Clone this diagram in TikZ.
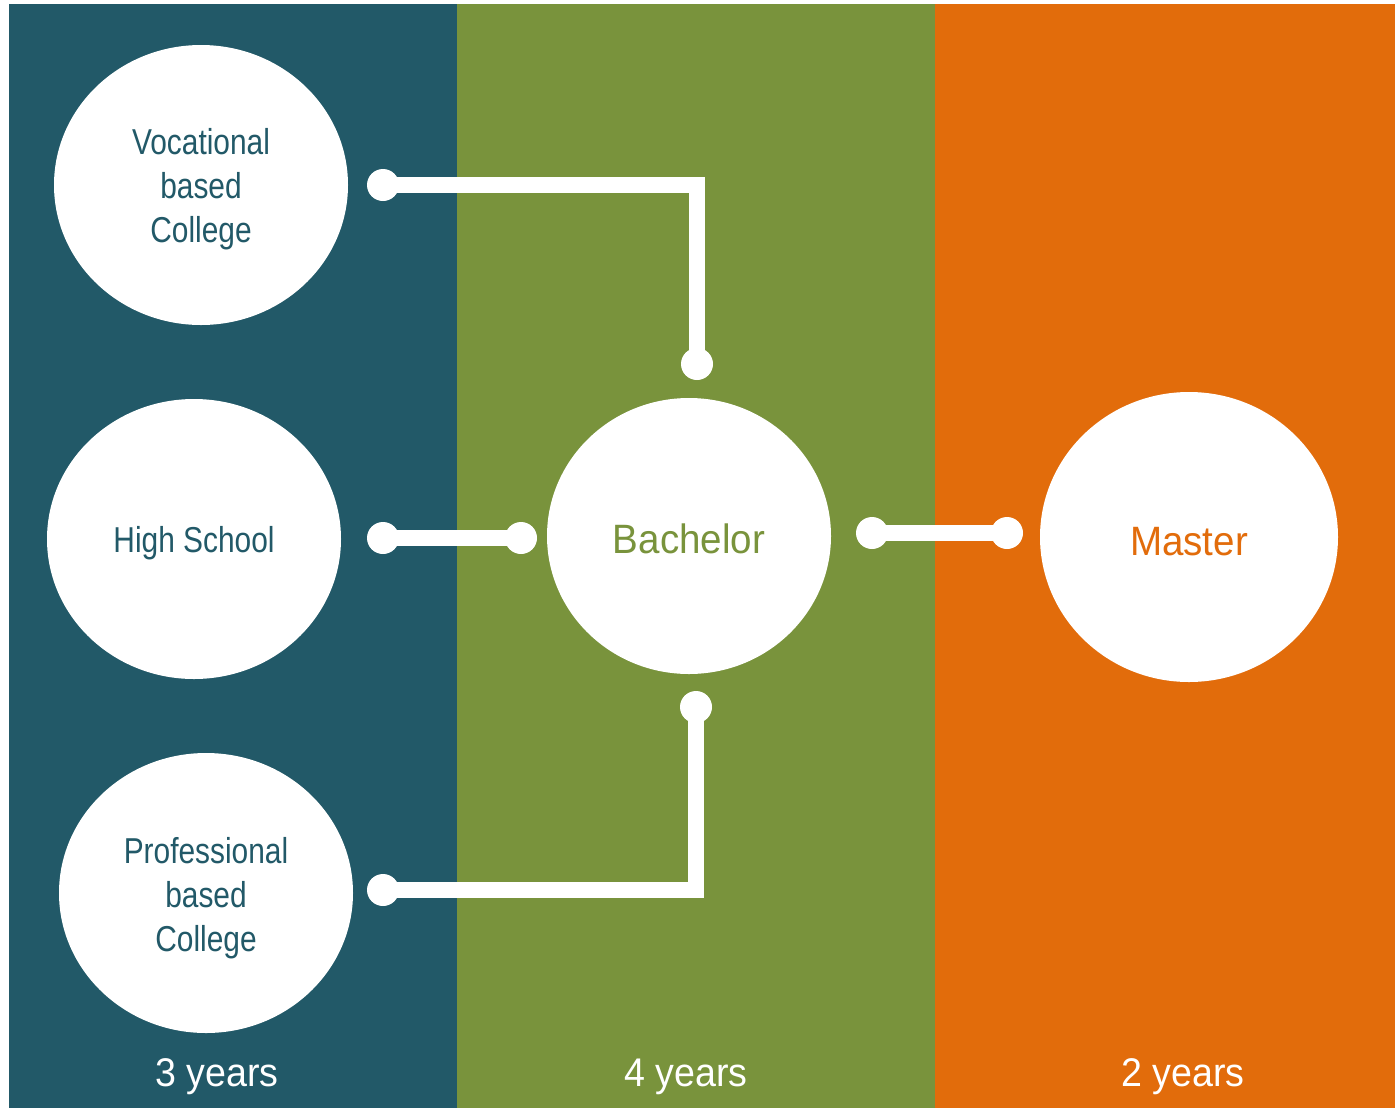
\documentclass[tikz,border=0pt]{standalone}
\usepackage{fontspec}
\setmainfont{Liberation Sans}
\newfontfamily\narrowf{Liberation Sans}[FakeStretch=0.83]
\newfontfamily\widef{Liberation Sans}[FakeStretch=0.94]
\usetikzlibrary{shapes.geometric}
\definecolor{tealc}{HTML}{225968}
\definecolor{greenc}{HTML}{79933C}
\definecolor{orangec}{HTML}{E26C0B}
\newcommand{\dnstrut}[1]{\rule{0pt}{#1pt}}
\tikzset{
  bubble/.style={ellipse, fill=white, inner sep=0pt, align=center},
  leftbubble/.style={bubble, minimum width=294pt, minimum height=280pt, text=tealc,
    font={\narrowf\fontsize{36}{44}\selectfont}},
  bigtext/.style={font={\widef\fontsize{41}{48}\selectfont}},
  yearlbl/.style={text=white, anchor=base, inner sep=0pt, font={\widef\fontsize{40}{48}\selectfont}},
  link/.style={draw=white, line width=16pt},
  dot/.style={fill=white}
}
\begin{document}
\begin{tikzpicture}[x=1pt,y=-1pt]
\useasboundingbox (0,0) rectangle (1395,1109);
\fill[white] (0,0) rectangle (1395,1109);
% panels
\fill[tealc] (9,4) rectangle (457,1108);
\fill[greenc] (457,4) rectangle (935,1108);
\fill[orangec] (935,4) rectangle (1395,1108);
% bubbles
\node[leftbubble] (voc) at (201,185) {\dnstrut{35}Vocational\\based\\College};
\node[leftbubble] (hs) at (194,539) {\dnstrut{35}High School};
\node[leftbubble] (prof) at (206,893) {\dnstrut{36}Professional\\based\\College};
\node[bubble, bigtext, text=greenc, minimum width=284pt, minimum height=276pt] (bach) at (689,536) {\dnstrut{35}Bachelor};
\node[bubble, bigtext, text=orangec, minimum width=298pt, minimum height=290pt] (mast) at (1189,537) {\dnstrut{38}Master};
% connector end points
\coordinate (v1) at (383,185);
\coordinate (v2) at (697,364);
\coordinate (h1) at (383,538);
\coordinate (h2) at (521,538);
\coordinate (p1) at (383,890);
\coordinate (p2) at (696,707);
\coordinate (b1) at (872,533);
\coordinate (b2) at (1007,533);
% connectors
\draw[link] (v1) -- (v1 -| v2) -- (v2);
\draw[link] (h1) -- (h2);
\draw[link] (p1) -- (p1 -| p2) -- (p2);
\draw[link] (b1) -- (b2);
\foreach \c in {v1,v2,h1,h2,p1,p2,b1,b2} \fill[dot] (\c) circle (16pt);
% year labels
\node[yearlbl] (y3) at (217,1086) {3 years};
\node[yearlbl] (y4) at (686,1086) {4 years};
\node[yearlbl] (y2) at (1183,1086) {2 years};
\end{tikzpicture}
\end{document}
